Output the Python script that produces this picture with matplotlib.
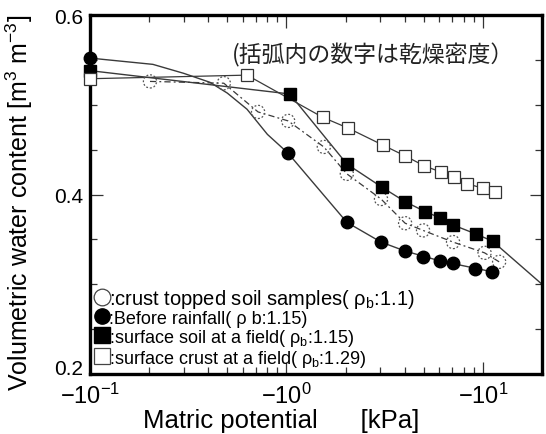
import matplotlib
matplotlib.use("Agg")
import matplotlib.pyplot as plt
from matplotlib.lines import Line2D
from matplotlib.ticker import FixedLocator, NullFormatter, FixedFormatter, LogLocator

plt.rcParams['font.family'] = ['Liberation Sans', 'Noto Sans CJK JP', 'DejaVu Sans']
plt.rcParams['mathtext.fontset'] = 'custom'
plt.rcParams['mathtext.rm'] = 'Liberation Sans'
plt.rcParams['mathtext.it'] = 'Liberation Sans:italic'
plt.rcParams['mathtext.bf'] = 'Liberation Sans:bold'

# ---- data (matric potential magnitude [kPa], volumetric water content) ----
crust_x = [0.202, 0.48, 0.717, 1.02, 1.55, 2.03, 3.03, 4.02, 4.96, 7.05, 10.2, 12.1]
crust_y = [0.526, 0.524, 0.492, 0.482, 0.453, 0.423, 0.395, 0.368, 0.360, 0.347, 0.335, 0.325]

before_x = [0.1, 1.02, 2.03, 3.03, 4.02, 4.96, 6.05, 7.05, 9.12, 11.1]
before_y = [0.552, 0.446, 0.369, 0.347, 0.337, 0.330, 0.326, 0.324, 0.317, 0.314]
before_fit_x = [0.1, 0.209, 0.3, 0.408, 0.5, 0.63, 0.8, 1.02, 2.03, 3.03, 4.02, 6.05, 11.1]
before_fit_y = [0.552, 0.545, 0.535, 0.525, 0.513, 0.495, 0.467, 0.446, 0.369, 0.347, 0.337, 0.326, 0.314]

soil_x = [0.1, 1.04, 2.03, 3.07, 4.02, 5.08, 6.05, 7.05, 9.23, 11.2]
soil_y = [0.538, 0.512, 0.434, 0.408, 0.392, 0.381, 0.374, 0.366, 0.356, 0.348]
soil_line_x = soil_x + [20.0]
soil_line_y = soil_y + [0.300]

field_x = [0.1, 0.63, 1.53, 2.06, 3.10, 4.02, 5.02, 6.12, 7.13, 8.31, 10.0, 11.5]
field_y = [0.529, 0.533, 0.486, 0.474, 0.455, 0.443, 0.432, 0.425, 0.420, 0.412, 0.407, 0.403]

y_ticks = [0.2, 0.4, 0.6]
y_tick_labels = ['0.2', '0.4', '0.6']
x_ticks = [0.1, 1, 10]
x_tick_labels = [r'$-10^{-1}$', r'$-10^{0}$', r'$-10^{1}$']

legend_labels = [r':crust topped soil samples( ρ$_{\mathrm{b}}$:1.1)',
                 r':Before rainfall( ρ b:1.15)',
                 r':surface soil at a field( ρ$_{\mathrm{b}}$:1.15)',
                 r':surface crust at a field( ρ$_{\mathrm{b}}$:1.29)']

fig = plt.figure(figsize=(5.46, 4.35), dpi=100)
ax = fig.add_axes([90/546, 1-375/435, (542-90)/546, (375-16)/435])
ax.set_xscale('log')
ax.set_xlim(0.1, 20)
ax.set_ylim(0.2, 0.6)

lc = '#3a3a3a'
# crust topped soil samples: dashed line, dashed open circles
ax.plot(crust_x, crust_y, color=lc, lw=0.9, dashes=(5, 2.5, 1.5, 2.5), zorder=2)
ax.scatter(crust_x, crust_y, s=90, facecolors='none', edgecolors='#555555',
           linewidths=0.9, linestyles=(0, (1.5, 1.5)), zorder=3)

# before rainfall: smooth curve + black circles
ax.plot(before_fit_x, before_fit_y, color=lc, lw=1.0, zorder=2)
ax.plot(before_x, before_y, ls='none', marker='o', ms=9, mfc='black', mec='black',
        clip_on=False, zorder=4)

# surface soil at field: black squares
ax.plot(soil_line_x, soil_line_y, color=lc, lw=1.0, zorder=2)
ax.plot(soil_x, soil_y, ls='none', marker='s', ms=8, mfc='black', mec='black',
        clip_on=False, zorder=4)

# surface crust at field: open squares
ax.plot(field_x, field_y, color=lc, lw=0.9, zorder=2)
ax.plot(field_x, field_y, ls='none', marker='s', ms=8, mfc='white', mec='#333333',
        mew=0.9, clip_on=False, zorder=4)

# ticks
ax.yaxis.set_major_locator(FixedLocator(y_ticks))
ax.yaxis.set_major_formatter(FixedFormatter(y_tick_labels))
ax.yaxis.set_minor_locator(FixedLocator([0.25, 0.3, 0.35, 0.45, 0.5, 0.55]))
ax.xaxis.set_major_locator(FixedLocator(x_ticks))
ax.xaxis.set_major_formatter(FixedFormatter(x_tick_labels))
ax.xaxis.set_minor_locator(LogLocator(base=10, subs=range(2, 10)))
ax.xaxis.set_minor_formatter(NullFormatter())
ax.tick_params(which='both', direction='in', top=True, right=True, width=0.9, color='#333333')
ax.tick_params(which='major', length=9)
ax.tick_params(which='minor', length=5)
ax.tick_params(axis='y', which='major', labelsize=15, pad=5)
ax.tick_params(axis='x', which='major', labelsize=17, pad=6)
for s in ax.spines.values():
    s.set_linewidth(2.4)

fig.canvas.draw()
ax.get_yticklabels()[0].set_verticalalignment('baseline')

fig.text(281/546, 1-421/435, 'Matric potential      [kPa]', fontsize=18.5,
         ha='center', va='center')
fig.text(19/546, 1-203/435, r'Volumetric water content [m$^3$ m$^{-3}$]', fontsize=18,
         ha='center', va='center', rotation=90)

ax.text((232-90)/452, (375-55)/359, '(括弧内の数字は乾燥密度）', transform=ax.transAxes,
        fontsize=16.5, family=['Noto Sans CJK JP'], va='center', ha='left', color='#222222')

handles = [
    Line2D([], [], ls='none', marker='o', ms=12, mfc='white', mec='#444444', mew=0.9),
    Line2D([], [], ls='none', marker='o', ms=11, mfc='black', mec='black'),
    Line2D([], [], ls='none', marker='s', ms=11, mfc='black', mec='black'),
    Line2D([], [], ls='none', marker='s', ms=11, mfc='white', mec='#444444', mew=0.9),
]
leg = ax.legend(handles, legend_labels, loc='lower left', bbox_to_anchor=(0.0, 0.0),
                frameon=False, fontsize=13, handlelength=0.7, handletextpad=0.05,
                labelspacing=0.0, borderpad=0.05, borderaxespad=0.25)
leg.get_texts()[0].set_fontsize(14.5)

fig.savefig('out.png', dpi=100)
